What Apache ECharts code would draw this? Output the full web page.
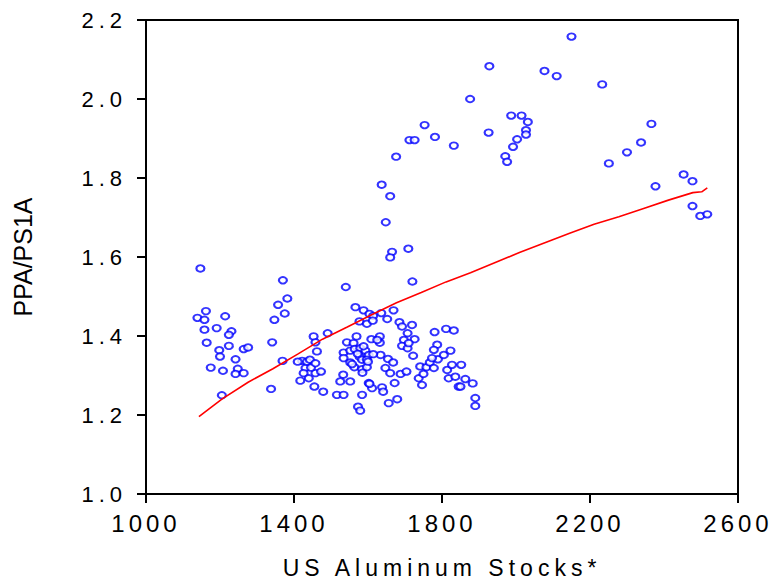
<!DOCTYPE html>
<html>
<head>
<meta charset="utf-8">
<script src="https://cdn.jsdelivr.net/npm/echarts@6/dist/echarts.min.js"></script>
<style>
  html, body { margin: 0; padding: 0; background: #fff; }
  #chart { width: 775px; height: 587px; }
  /* EViews-style spaced lettering on tick labels and the x-axis title */
  #chart text[style*="24px"] { letter-spacing: 4px; }
  #chart text[style*="22px"] { letter-spacing: 5px; }
  #chart text[style*="23px"] { letter-spacing: 5px; }
</style>
</head>
<body>
<div id="chart"></div>
<script>
// US aluminium stocks (thousand tonnes) against the PPA/PS1A price ratio
const stocks = [
  2150, 1928, 2077, 2110, 2233, 1876, 1987, 2015, 2032, 2027, 2027, 2003, 1992, 1971, 1976,
  1926, 1832, 1781, 1753, 1712, 1726, 1676, 1637, 1660, 1648, 1709, 1665, 1660, 1720,
  2366, 2338, 2300, 2251, 2453, 2477, 2377, 2477, 2498, 2517,
  1147, 1139, 1162, 1158, 1158, 1164, 1191, 1214, 1198, 1200, 1175, 1208, 1205, 1224, 1231,
  1224, 1242, 1248, 1242, 1264, 1264, 1276, 1341, 1338, 1347, 1357, 1370, 1382, 1375, 1369,
  1540, 1566, 1588, 1604, 1614, 1636, 1669, 1652, 1577, 1597, 1613, 1685, 1692, 1719, 1780,
  1811, 1832, 1491, 1707, 1453, 1569, 1609, 1632, 1632, 1625, 1726, 1697, 1543, 1561, 1692,
  1707, 1787, 1458, 1462, 1534, 1552, 1564, 1579, 1593, 1602, 1634, 1534, 1577, 1584, 1597,
  1654, 1722, 1789, 1805, 1823, 1422, 1431, 1426, 1440, 1435, 1458, 1473, 1455, 1479, 1552,
  1563, 1584, 1597, 1647, 1660, 1688, 1704, 1533, 1525, 1552, 1602, 1611, 1638, 1641, 1672,
  1584, 1516, 1534, 1573, 1579, 1656, 1679, 1741, 1758, 1767, 1773, 1778, 1737, 1750, 1746,
  1814, 1827, 1818, 1836, 1845, 1778, 1710,
  1410, 1417, 1446, 1443, 1458, 1557, 1572, 1585, 1600, 1588, 1614, 1604, 1668,
  1852, 1863, 1883, 1850, 1890, 1890
];
const ratio = [
  2.158, 2.083, 2.071, 2.058, 2.037, 2.000, 1.958, 1.958, 1.942, 1.921, 1.910, 1.898, 1.879, 1.855, 1.841,
  1.915, 1.882, 1.904, 1.934, 1.896, 1.896, 1.854, 1.783, 1.754, 1.688, 1.621, 1.613, 1.599, 1.538,
  1.937, 1.890, 1.865, 1.837, 1.809, 1.792, 1.779, 1.729, 1.704, 1.708,
  1.571, 1.446, 1.463, 1.441, 1.416, 1.383, 1.420, 1.450, 1.364, 1.348, 1.320, 1.312, 1.250, 1.375, 1.412,
  1.403, 1.341, 1.317, 1.304, 1.306, 1.367, 1.371, 1.384, 1.266, 1.441, 1.479, 1.541, 1.495, 1.457, 1.337,
  1.524, 1.473, 1.465, 1.456, 1.451, 1.458, 1.465, 1.443, 1.437, 1.431, 1.439, 1.435, 1.424, 1.428, 1.410,
  1.418, 1.414, 1.407, 1.407, 1.399, 1.399, 1.392, 1.399, 1.383, 1.390, 1.392, 1.390, 1.384, 1.382, 1.375,
  1.369, 1.378, 1.384, 1.361, 1.358, 1.363, 1.367, 1.369, 1.363, 1.352, 1.352, 1.344, 1.348, 1.340, 1.340,
  1.342, 1.350, 1.341, 1.352, 1.363, 1.337, 1.319, 1.306, 1.293, 1.335, 1.306, 1.310, 1.272, 1.259, 1.333,
  1.321, 1.316, 1.321, 1.319, 1.306, 1.304, 1.310, 1.302, 1.285, 1.285, 1.281, 1.268, 1.270, 1.259, 1.281,
  1.251, 1.251, 1.251, 1.221, 1.211, 1.230, 1.240, 1.323, 1.321, 1.333, 1.344, 1.319, 1.293, 1.304, 1.276,
  1.314, 1.327, 1.293, 1.297, 1.272, 1.365, 1.382,
  1.335, 1.287, 1.320, 1.340, 1.331, 1.329, 1.355, 1.307, 1.335, 1.374, 1.354, 1.279, 1.333,
  1.327, 1.291, 1.280, 1.272, 1.243, 1.223
];

// Fitted curve
const fitStocks = [1143, 1206, 1276, 1343, 1410, 1477, 1544, 1610, 1677, 1744, 1811, 1877,
                   1944, 2011, 2078, 2145, 2211, 2278, 2345, 2412, 2478, 2502, 2517];
const fitRatio  = [1.196, 1.241, 1.283, 1.317, 1.354, 1.392, 1.423, 1.454, 1.484, 1.510, 1.537, 1.560,
                   1.586, 1.612, 1.636, 1.660, 1.683, 1.702, 1.723, 1.744, 1.763, 1.765, 1.775];

const xTicks = [1000, 1400, 1800, 2200, 2600];
const yTicks = [1.0, 1.2, 1.4, 1.6, 1.8, 2.0, 2.2];

const FONT = '"Liberation Sans", Arial, sans-serif';

const scatterData = stocks.map((v, i) => [v, ratio[i]]);
const fitData = fitStocks.map((v, i) => [v, fitRatio[i]]);

const chart = echarts.init(document.getElementById('chart'), null, { renderer: 'svg' });
chart.setOption({
  animation: false,
  backgroundColor: '#ffffff',
  grid: {
    left: 146, right: 37, top: 20, bottom: 93,
    show: true, borderColor: '#000', borderWidth: 2, backgroundColor: 'transparent'
  },
  xAxis: {
    type: 'value',
    min: xTicks[0], max: xTicks[xTicks.length - 1], interval: 400,
    name: 'US Aluminum Stocks*',
    nameLocation: 'middle', nameGap: 62,
    nameTextStyle: { fontFamily: FONT, fontSize: 23, color: '#000' },
    axisLine: { show: true, lineStyle: { color: '#000', width: 2 } },
    axisTick: { show: true, length: 9, lineStyle: { color: '#000', width: 2 } },
    axisLabel: { fontFamily: FONT, fontSize: 24, color: '#000', margin: 17,
                 formatter: v => String(v) },
    splitLine: { show: false }
  },
  yAxis: {
    type: 'value',
    min: yTicks[0], max: yTicks[yTicks.length - 1], interval: 0.2,
    name: 'PPA/PS1A',
    nameLocation: 'middle', nameGap: 111,
    nameTextStyle: { fontFamily: FONT, fontSize: 25, color: '#000' },
    axisLine: { show: true, lineStyle: { color: '#000', width: 2 } },
    axisTick: { show: true, length: 9, lineStyle: { color: '#000', width: 2 } },
    axisLabel: { fontFamily: FONT, fontSize: 22, color: '#000', margin: 19,
                 formatter: v => v.toFixed(1) },
    splitLine: { show: false }
  },
  series: [
    {
      type: 'scatter',
      data: scatterData,
      symbol: 'emptyCircle',
      symbolSize: [8, 6.5],
      itemStyle: { color: '#0000ff', borderColor: '#0000ff', borderWidth: 2.5 },
      z: 3
    },
    {
      type: 'line',
      data: fitData,
      showSymbol: false,
      smooth: false,
      lineStyle: { color: '#ff0000', width: 1.6 },
      z: 4
    }
  ]
});
</script>
</body>
</html>
